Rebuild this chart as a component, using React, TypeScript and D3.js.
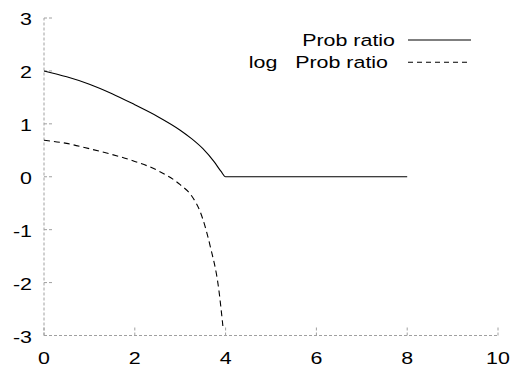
import React from 'react';
import * as d3 from 'd3';

const width = 512;
const height = 369;
const margin = { top: 18, right: 14, bottom: 33.5, left: 44 };

// values
const probX = [0, 0.5, 1, 1.5, 2, 2.5, 3, 3.25, 3.5, 3.75, 3.9, 4, 5, 6, 7, 8];
const probY = [2, 1.89, 1.75, 1.57, 1.36, 1.14, 0.88, 0.72, 0.53, 0.28, 0.1, 0, 0, 0, 0, 0];
const logX = [0, 0.5, 1, 1.5, 2, 2.5, 3, 3.25, 3.44, 3.66, 3.85, 3.94];
const logY = [0.69, 0.63, 0.53, 0.42, 0.29, 0.12, -0.15, -0.36, -0.66, -1.31, -2.13, -2.82];
const xTicks = [0, 2, 4, 6, 8, 10];
const yTicks = [-3, -2, -1, 0, 1, 2, 3];
const legendLabels = ['Prob ratio', 'log   Prob ratio'];
const legendTextEnd = [395, 388]; // gnuplot right-justifies the second line a bit short

const font = '"Liberation Sans", Arial, sans-serif';
const fontSize = 17;
const stretch = 1.26; // glyphs in the picture are wider than Arial
const axisColor = '#a0a0a0';

function Label({ x, y, anchor, children }: { x: number; y: number; anchor: string; children: React.ReactNode }) {
	return (
		<text
			transform={`translate(${x},${y}) scale(${stretch},1)`}
			dy="0.36em"
			textAnchor={anchor}
			fontFamily={font}
			fontSize={fontSize}
			fill="#000"
			style={{ whiteSpace: 'pre' }}
		>
			{children}
		</text>
	);
}

export default function App() {
	const x = d3.scaleLinear().domain([0, 10]).range([margin.left, width - margin.right]);
	const y = d3.scaleLinear().domain([-3, 3]).range([height - margin.bottom, margin.top]);

	const line = d3
		.line<[number, number]>()
		.x((d) => x(d[0]))
		.y((d) => y(d[1]))
		.curve(d3.curveMonotoneX);

	const probPath = line(probX.map((v, i) => [v, probY[i]]));
	const logPath = line(logX.map((v, i) => [v, logY[i]]));

	const [x0, x1] = x.range();
	const [y0, y1] = y.range();

	return (
		<svg width={width} height={height} style={{ position: 'absolute', left: 0, top: 0 }}>
			{/* border: left and bottom */}
			<g stroke={axisColor} strokeWidth={1} strokeDasharray="3,2" fill="none">
				<line x1={x0} x2={x0} y1={y0} y2={y1} />
				<line x1={x0} x2={x1} y1={y0} y2={y0} />
				{yTicks.map((t) => (
					<line key={'yt' + t} x1={x0} x2={x0 + 9} y1={y(t)} y2={y(t)} />
				))}
				{xTicks.map((t) => (
					<line key={'xt' + t} x1={x(t)} x2={x(t)} y1={y0} y2={y0 - 9} />
				))}
			</g>
			{yTicks.map((t) => (
				<Label key={'yl' + t} x={x0 - 12} y={y(t) + 1} anchor="end">
					{t}
				</Label>
			))}
			{xTicks.map((t) => (
				<Label key={'xl' + t} x={x(t)} y={y0 + 22.5} anchor="middle">
					{t}
				</Label>
			))}
			<path d={probPath} fill="none" stroke="#000" strokeWidth={1.1} />
			<path d={logPath} fill="none" stroke="#000" strokeWidth={1.1} strokeDasharray="6,4" />
			{/* legend */}
			{legendLabels.map((l, i) => (
				<g key={l}>
					<Label x={legendTextEnd[i]} y={40 + i * 22.3} anchor="end">
						{l}
					</Label>
					<line
						x1={408}
						x2={471}
						y1={40 + i * 22.3}
						y2={40 + i * 22.3}
						stroke="#000"
						strokeWidth={1.1}
						strokeDasharray={i === 1 ? '5,4' : undefined}
					/>
				</g>
			))}
		</svg>
	);
}
